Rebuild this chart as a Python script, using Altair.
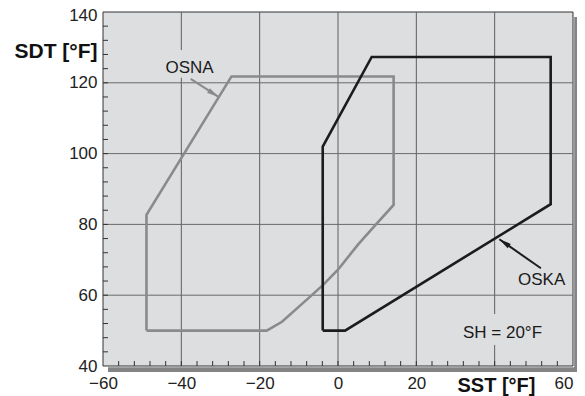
import math
import altair as alt
import pandas as pd

# ---- data ----
x_domain = [-60, 60]
y_domain = [40, 140]
x_labels = [-60, -40, -20, 0, 20, 60]
y_labels = [40, 60, 80, 100, 120, 140]
x_grid = [-40, -20, 0, 20, 40]
y_grid = [60, 80, 100, 120]
x_minor = list(range(-56, 60, 4))
y_minor = list(range(44, 140, 4))

osna_sst = [-48.9, -18.2, -14.3, -7.6, -3.8, 0.0, 5.1, 9.7, 14.2, 14.2, -27.2, -48.9, -48.9]
osna_sdt = [50.0, 50.0, 52.5, 59.1, 62.9, 67.2, 74.3, 80.0, 85.5, 121.8, 121.8, 82.7, 50.0]
oska_sst = [-3.9, 1.8, 54.3, 54.3, 8.6, -3.9, -3.9]
oska_sdt = [50.0, 50.0, 85.7, 127.3, 127.3, 102.0, 50.0]

osna_arrow_sst = [-37.6, -30.5]
osna_arrow_sdt = [121.1, 116.0]
oska_arrow_sst = [51.8, 41.2]
oska_arrow_sdt = [67.6, 75.8]

label_text = ["OSNA", "OSKA", "SH = 20°F"]
label_sst = [-37.9, 52.0, 42.0]
label_sdt = [122.9, 62.9, 47.8]

# background patches behind labels (hide gridlines)
patch_x1 = [-44.8, 30.7]
patch_x2 = [-30.8, 53.5]
patch_y1 = [121.4, 45.9]
patch_y2 = [129.3, 54.7]

W, H = 470, 354
PLOT_BG = "#dddee0"
FONT = "Liberation Sans"

xs = alt.Scale(domain=x_domain, nice=False, zero=False)
ys = alt.Scale(domain=y_domain, nice=False, zero=False)

X_AX = alt.Axis(
    values=x_labels, grid=False, ticks=False, tickSize=0, domain=False,
    labelFont=FONT, labelFontSize=17, labelColor="#222222", labelPadding=9,
    labelAlign={"condition": {"test": "datum.value == 60", "value": "right"}, "value": "center"},
    labelFlush=False, labelOverlap=False, labelBound=False,
    title="SST [°F]", titleFont=FONT, titleFontSize=20, titleFontWeight="bold",
    titleColor="#111111", titleX=393, titleY=25, titleAlign="center",
    titleBaseline="alphabetic", titleAnchor="start")
Y_AX = alt.Axis(
    values=y_labels, grid=False, ticks=False, tickSize=0, domain=False,
    labelFont=FONT, labelFontSize=17, labelColor="#222222", labelPadding=6,
    labelOffset={"condition": {"test": "datum.value == 140", "value": 3.5}, "value": 0},
    labelFlush=False, labelOverlap=False, labelBound=False,
    title="SDT [°F]", titleFont=FONT, titleFontSize=21, titleFontWeight="bold",
    titleColor="#111111", titleAngle=0, titleX=-6, titleY=45, titleAlign="right",
    titleBaseline="alphabetic", titleAnchor="start")


def X(field="sst"):
    return alt.X(f"{field}:Q", scale=xs, axis=X_AX, title="SST [°F]")


def Y(field="sdt"):
    return alt.Y(f"{field}:Q", scale=ys, axis=Y_AX, title="SDT [°F]")


def poly_df(xv, yv):
    return pd.DataFrame({"sst": xv, "sdt": yv, "o": list(range(len(xv)))})


one = pd.DataFrame({"k": [0]})

# shadow bands
shadow_right = alt.Chart(one).mark_rect(color="#848484").encode(
    x=alt.value(W + 1.2), x2=alt.value(W + 7), y=alt.value(5), y2=alt.value(H + 6))
shadow_bottom = alt.Chart(one).mark_rect(color="#848484").encode(
    x=alt.value(5), x2=alt.value(W + 7), y=alt.value(H + 1.2), y2=alt.value(H + 6))
plot_bg = alt.Chart(one).mark_rect(
    fill=PLOT_BG, stroke="#333333", strokeWidth=1).encode(
    x=alt.value(0), x2=alt.value(W), y=alt.value(0), y2=alt.value(H))

vgrid = alt.Chart(pd.DataFrame({"sst": x_grid})).mark_rule(color="#5e5e5e", strokeWidth=1).encode(
    x=X(), y=alt.value(0), y2=alt.value(H))
hgrid = alt.Chart(pd.DataFrame({"sdt": y_grid})).mark_rule(color="#6a6a6a", strokeWidth=1).encode(
    y=Y(), x=alt.value(0), x2=alt.value(W))

xticks = alt.Chart(pd.DataFrame({"sst": x_minor})).mark_rule(color="#333333", strokeWidth=1).encode(
    x=X(), y=alt.value(H), y2=alt.value(H - 5))
yticks = alt.Chart(pd.DataFrame({"sdt": y_minor})).mark_rule(color="#333333", strokeWidth=1).encode(
    y=Y(), x=alt.value(0), x2=alt.value(5))

patches = alt.Chart(pd.DataFrame({"sst": patch_x1, "x2": patch_x2, "sdt": patch_y1, "y2": patch_y2})).mark_rect(
    color=PLOT_BG).encode(x=X(), x2="x2:Q", y=Y(), y2="y2:Q")

osna = alt.Chart(poly_df(osna_sst, osna_sdt)).mark_line(
    color="#8a8a8a", strokeWidth=2.6, strokeJoin="miter").encode(x=X(), y=Y(), order="o:Q")

oska = alt.Chart(poly_df(oska_sst, oska_sdt)).mark_line(
    color="#1c1c1c", strokeWidth=2.6, strokeJoin="miter").encode(x=X(), y=Y(), order="o:Q")


def arrow(xv, yv, color):
    sx = W / (x_domain[1] - x_domain[0])
    sy = H / (y_domain[1] - y_domain[0])
    dx = (xv[1] - xv[0]) * sx
    dy = -(yv[1] - yv[0]) * sy
    ang = (math.degrees(math.atan2(dx, -dy)) + 360) % 360
    line = alt.Chart(poly_df(xv, yv)).mark_line(color=color, strokeWidth=2).encode(
        x=X(), y=Y(), order="o:Q")
    head = alt.Chart(pd.DataFrame({"sst": [xv[1]], "sdt": [yv[1]], "a": [ang]})).mark_point(
        shape="M0,0 L-0.45,2 L0.45,2 Z", filled=True, opacity=1, color=color, size=144).encode(
        x=X(), y=Y(), angle=alt.Angle("a:Q", scale=None))
    return line + head


labels = alt.Chart(pd.DataFrame({"t": label_text, "sst": label_sst, "sdt": label_sdt})).mark_text(
    font=FONT, fontSize=17, color="#1a1a1a", align="center", baseline="alphabetic").encode(
    x=X(), y=Y(), text="t:N")

chart = alt.layer(
    shadow_right, shadow_bottom, plot_bg, vgrid, hgrid, xticks, yticks, patches,
    osna, oska,
    arrow(osna_arrow_sst, osna_arrow_sdt, "#8a8a8a"),
    arrow(oska_arrow_sst, oska_arrow_sdt, "#1c1c1c"),
    labels,
).properties(
    width=W, height=H,
    autosize=alt.AutoSizeParams(type="none"),
    padding={"left": 95, "top": 4, "right": 4, "bottom": 30},
).configure_view(stroke="transparent")

chart.save("out.html", embed_options={"renderer": "svg", "actions": False})
